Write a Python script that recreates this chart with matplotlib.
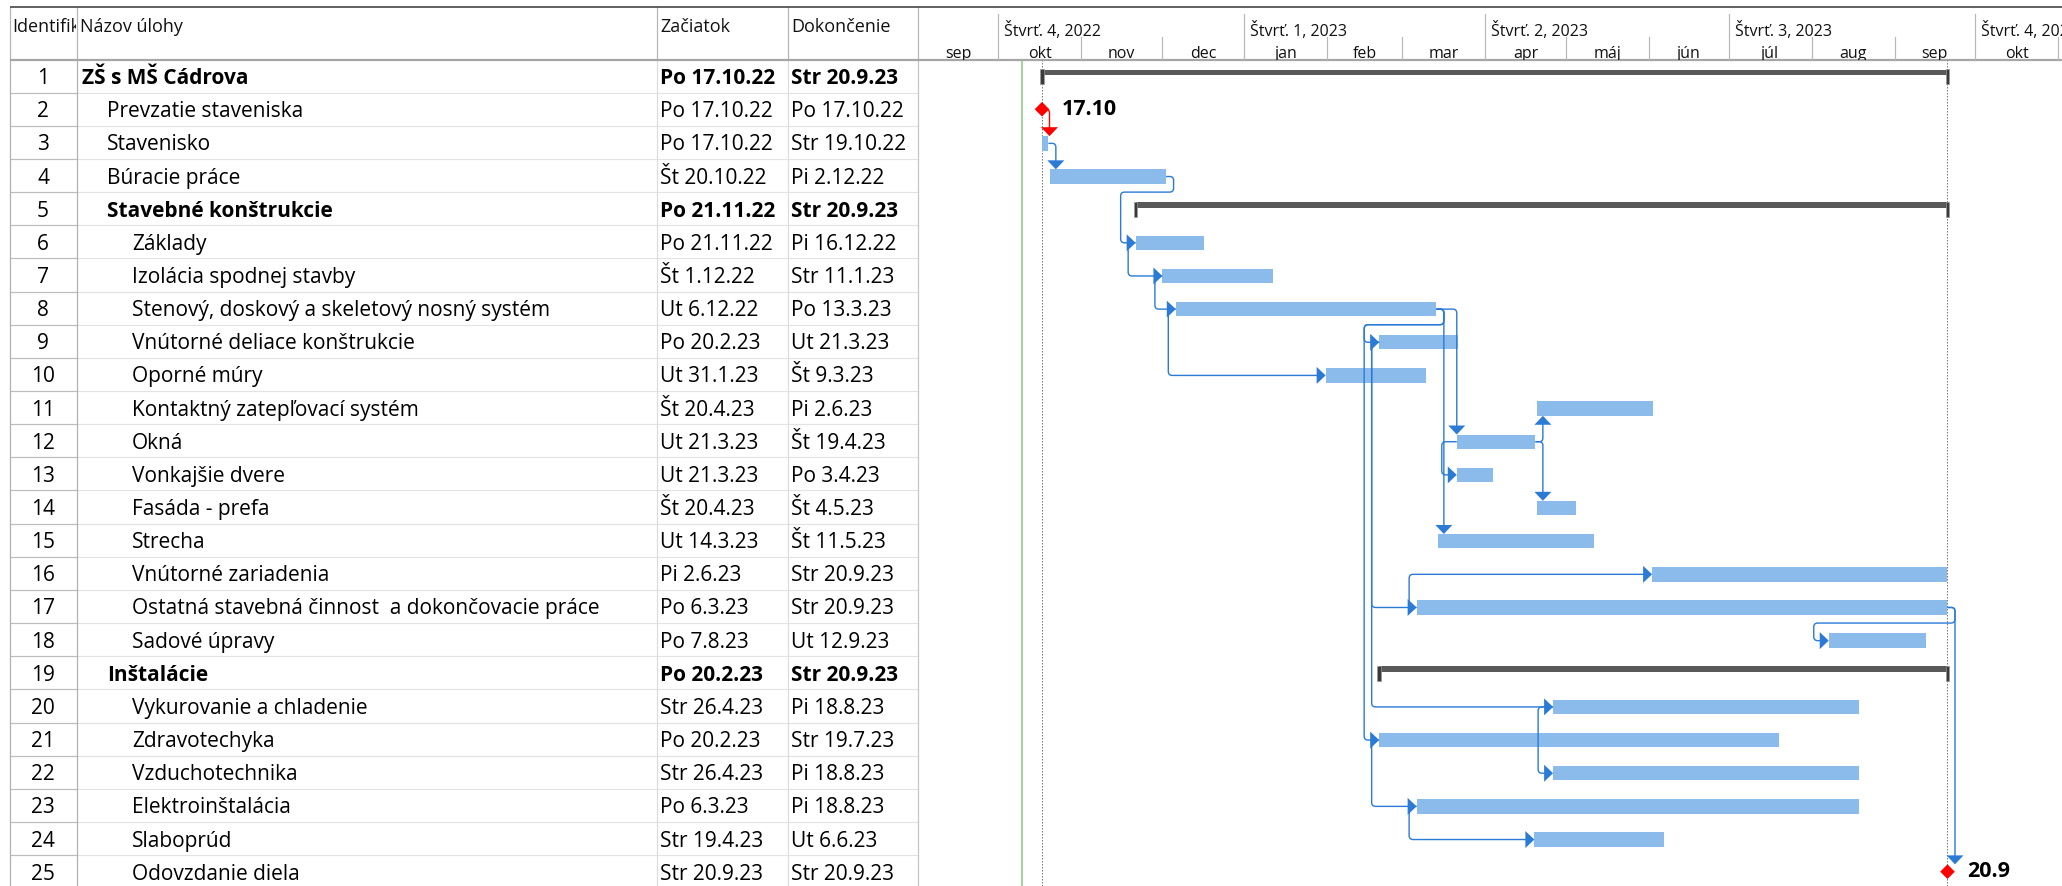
import matplotlib
matplotlib.use('Agg')
import matplotlib.pyplot as plt
import matplotlib.dates as mdates
from matplotlib.path import Path
from matplotlib.patches import PathPatch, Rectangle, Polygon
from matplotlib.transforms import Bbox, TransformedBbox
from datetime import datetime, timedelta

plt.rcParams['font.family'] = ['Open Sans', 'DejaVu Sans']

# ---------------- data ----------------
task_ids = list(range(1, 26))
task_names = [
    'ZŠ s MŠ Cádrova', 'Prevzatie staveniska', 'Stavenisko', 'Búracie práce',
    'Stavebné konštrukcie', 'Základy', 'Izolácia spodnej stavby',
    'Stenový, doskový a skeletový nosný systém', 'Vnútorné deliace konštrukcie',
    'Oporné múry', 'Kontaktný zatepľovací systém', 'Okná', 'Vonkajšie dvere',
    'Fasáda - prefa', 'Strecha', 'Vnútorné zariadenia',
    'Ostatná stavebná činnost  a dokončovacie práce', 'Sadové úpravy',
    'Inštalácie', 'Vykurovanie a chladenie', 'Zdravotechyka', 'Vzduchotechnika',
    'Elektroinštalácia', 'Slaboprúd', 'Odovzdanie diela']
task_levels = [1, 2, 2, 2, 2, 3, 3, 3, 3, 3, 3, 3, 3, 3, 3, 3, 3, 3, 2, 3, 3, 3, 3, 3, 3]
start_labels = [
    'Po 17.10.22', 'Po 17.10.22', 'Po 17.10.22', 'Št 20.10.22', 'Po 21.11.22',
    'Po 21.11.22', 'Št 1.12.22', 'Ut 6.12.22', 'Po 20.2.23', 'Ut 31.1.23',
    'Št 20.4.23', 'Ut 21.3.23', 'Ut 21.3.23', 'Št 20.4.23', 'Ut 14.3.23',
    'Pi 2.6.23', 'Po 6.3.23', 'Po 7.8.23', 'Po 20.2.23', 'Str 26.4.23',
    'Po 20.2.23', 'Str 26.4.23', 'Po 6.3.23', 'Str 19.4.23', 'Str 20.9.23']
finish_labels = [
    'Str 20.9.23', 'Po 17.10.22', 'Str 19.10.22', 'Pi 2.12.22', 'Str 20.9.23',
    'Pi 16.12.22', 'Str 11.1.23', 'Po 13.3.23', 'Ut 21.3.23', 'Št 9.3.23',
    'Pi 2.6.23', 'Št 19.4.23', 'Po 3.4.23', 'Št 4.5.23', 'Št 11.5.23',
    'Str 20.9.23', 'Str 20.9.23', 'Ut 12.9.23', 'Str 20.9.23', 'Pi 18.8.23',
    'Str 19.7.23', 'Pi 18.8.23', 'Pi 18.8.23', 'Ut 6.6.23', 'Str 20.9.23']
task_kinds = ['summary', 'milestone', 'task', 'task', 'summary',
              'task', 'task', 'task', 'task', 'task',
              'task', 'task', 'task', 'task', 'task',
              'task', 'task', 'task', 'summary', 'task',
              'task', 'task', 'task', 'task', 'milestone']
# working day: tasks start 8:00 and finish 17:00; milestone times
work_start_hour = 8
work_end_hour = 17
milestone_hour = {2: 8, 25: 17}

link_pred = [2, 3, 4, 6, 7, 8, 8, 8, 8, 8, 12, 12, 12, 9, 9, 21, 20, 23, 17, 17, 17]
link_succ = [3, 4, 6, 7, 8, 10, 9, 21, 12, 15, 11, 14, 13, 17, 20, 23, 22, 24, 16, 18, 25]
link_type = ['FS', 'FS', 'FS', 'SS', 'SS', 'SS', 'FS', 'FS', 'FS', 'FS', 'FS', 'FS', 'SS',
             'SS', 'SS', 'SS', 'SS', 'SS', 'SS', 'FS', 'FS']
link_critical = [True] + [False] * 20

col_headers = ['Identifikátor', 'Názov úlohy', 'Začiatok', 'Dokončenie']
month_labels = ['sep', 'okt', 'nov', 'dec', 'jan', 'feb', 'mar', 'apr', 'máj',
                'jún', 'júl', 'aug', 'sep', 'okt']
first_month = (2022, 9)
quarter_labels = ['Štvrť. 4, 2022', 'Štvrť. 1, 2023', 'Štvrť. 2, 2023',
                  'Štvrť. 3, 2023', 'Štvrť. 4, 2023']
quarter_starts = ['2022-10-01', '2023-01-01', '2023-04-01', '2023-07-01', '2023-10-01']
status_date = '2022-10-10'
view_start = '2022-09-01 00:00'
view_end = '2023-11-02 12:00'

# ---------------- layout (pixels) ----------------
FIG_W, FIG_H = 2062, 887
TOP_Y = 8.3
HDR_Y = 60.5
ROW_PX = 33.15
COL_X = [10, 77, 657, 788, 918]
GX0 = 918

BAR_COLOR = '#8BBBEB'
LINK_COLOR = '#2B7BD6'
CRIT_COLOR = '#FF0000'
SUM_COLOR = '#595959'


def pt(px):
    return px * 0.72


def parse_label(s):
    d, m, y = s.split()[1].split('.')
    return datetime(2000 + int(y), int(m), int(d))


fig = plt.figure(figsize=(FIG_W / 100, FIG_H / 100), dpi=100)

# ---------------- table ----------------
ax_t = fig.add_axes([0, 0, 1, 1])
ax_t.set_xlim(0, FIG_W)
ax_t.set_ylim(FIG_H, 0)
ax_t.axis('off')
ax_t.patch.set_alpha(0)

n = len(task_ids)
for i in range(1, n + 1):
    y = HDR_Y + i * ROW_PX
    ax_t.plot([COL_X[0], COL_X[1]], [y, y], color='#BDBDBD', lw=pt(1.2), solid_capstyle='butt')
    ax_t.plot([COL_X[1], COL_X[4]], [y, y], color='#E3E3E3', lw=pt(1.2), solid_capstyle='butt')
for x in COL_X:
    ax_t.plot([x, x], [TOP_Y, HDR_Y], color='#B4B4B4', lw=pt(1.2))
ax_t.plot([COL_X[0], COL_X[0]], [HDR_Y, FIG_H], color='#B0B0B0', lw=pt(1.2))
ax_t.plot([COL_X[1], COL_X[1]], [HDR_Y, FIG_H], color='#B0B0B0', lw=pt(1.2))
for x in COL_X[2:4]:
    ax_t.plot([x, x], [HDR_Y, FIG_H], color='#DCDCDC', lw=pt(1.2))
ax_t.plot([COL_X[4], COL_X[4]], [HDR_Y, FIG_H], color='#C4C4C4', lw=pt(1.2))
ax_t.plot([COL_X[0] - 0.5, FIG_W], [TOP_Y, TOP_Y], color='#404040', lw=pt(1.6),
          solid_capstyle='butt')
ax_t.plot([COL_X[0] - 0.5, FIG_W], [HDR_Y, HDR_Y], color='#A6A6A6', lw=pt(2.2),
          solid_capstyle='butt', zorder=5)

hdr_x = [12, 80, 660, 791]
for k, (x, h) in enumerate(zip(hdr_x, col_headers)):
    t = ax_t.text(x, 31.7, h, fontsize=13, ha='left', va='baseline', color='#111111')
    right = COL_X[k + 1] - 1
    t.set_clip_on(True)
    t.set_clip_box(TransformedBbox(Bbox.from_extents(COL_X[k], TOP_Y, right, HDR_Y),
                                   ax_t.transData))

for i in range(n):
    yb = HDR_Y + (i + 0.5) * ROW_PX + 7
    fw = 'bold' if task_kinds[i] == 'summary' else 'normal'
    ax_t.text(43, yb, str(task_ids[i]), fontsize=15, ha='center', va='baseline')
    ax_t.text(82 + (task_levels[i] - 1) * 25, yb, task_names[i], fontsize=15,
              ha='left', va='baseline', fontweight=fw)
    ax_t.text(660, yb, start_labels[i], fontsize=15, ha='left', va='baseline', fontweight=fw)
    ax_t.text(791, yb, finish_labels[i], fontsize=15, ha='left', va='baseline', fontweight=fw)

# ---------------- gantt axes ----------------
xl0 = mdates.date2num(datetime.fromisoformat(view_start))
xl1 = mdates.date2num(datetime.fromisoformat(view_end))
gw = (FIG_W - GX0) / FIG_W
ax_g = fig.add_axes([GX0 / FIG_W, 0, gw, (FIG_H - HDR_Y) / FIG_H])
ax_g.set_xlim(xl0, xl1)
ax_g.set_ylim(0.5 + (FIG_H - HDR_Y) / ROW_PX, 0.5)
ax_g.axis('off')
ax_g.patch.set_alpha(0)

ax_h = fig.add_axes([GX0 / FIG_W, (FIG_H - HDR_Y) / FIG_H, gw, (HDR_Y - TOP_Y) / FIG_H],
                    sharex=ax_g)
ax_h.set_ylim(HDR_Y, TOP_Y)
ax_h.axis('off')
ax_h.patch.set_alpha(0)

XPP = (xl1 - xl0) / (FIG_W - GX0)   # days per pixel
YPP = 1.0 / ROW_PX                   # rows per pixel


def hx(px):
    return px * XPP


def vy(px):
    return px * YPP


# timescale header
month_starts = []
y0, m0 = first_month
for k in range(len(month_labels) + 1):
    mm = m0 - 1 + k
    month_starts.append(datetime(y0 + mm // 12, mm % 12 + 1, 1))
q_nums = [mdates.date2num(datetime.fromisoformat(q)) for q in quarter_starts]
for k, lab in enumerate(month_labels):
    a = mdates.date2num(month_starts[k])
    b = mdates.date2num(month_starts[k + 1])
    ax_h.text((a + b) / 2, 58.3, lab, fontsize=11.5, ha='center', va='baseline',
              color='#111111', clip_on=True)
    if b not in q_nums:
        ax_h.plot([b, b], [38.3, HDR_Y], color='#B8B8B8', lw=pt(1.2))
for qx, lab in zip(q_nums, quarter_labels):
    ax_h.plot([qx, qx], [15, HDR_Y], color='#B8B8B8', lw=pt(1.2))
    ax_h.text(qx + hx(6), 35.7, lab, fontsize=11.5, ha='left', va='baseline',
              color='#111111', clip_on=True)

# task geometry
geo = {}
for i in range(n):
    row = i + 1
    tid = task_ids[i]
    if task_kinds[i] == 'milestone':
        base = parse_label(start_labels[i])
        x = mdates.date2num(base + timedelta(hours=milestone_hour[tid]))
        geo[tid] = dict(start=x, end=x, yc=row, top=row - vy(7.3), bot=row + vy(7.3), row=row)
    else:
        s = mdates.date2num(parse_label(start_labels[i]) + timedelta(hours=work_start_hour))
        f = mdates.date2num(parse_label(finish_labels[i]) + timedelta(hours=work_end_hour))
        yc = row + vy(1.0)
        geo[tid] = dict(start=s, end=f, yc=yc, top=yc - vy(7.2), bot=yc + vy(7.2), row=row)

# reference lines
proj = geo[task_ids[0]]
ax_g.axvline(mdates.date2num(datetime.fromisoformat(status_date)), color='#8CCB80',
             lw=pt(1.6), zorder=1)
for x in (proj['start'], proj['end']):
    ax_g.axvline(x, color='#7A7A7A', lw=pt(1.0), ls=(0, (1.5, 1.5)), zorder=1)

# bars
for i in range(n):
    tid = task_ids[i]
    g = geo[tid]
    row = g['row']
    if task_kinds[i] == 'task':
        ax_g.add_patch(Rectangle((g['start'], g['top']), g['end'] - g['start'],
                                 g['bot'] - g['top'], facecolor=BAR_COLOR,
                                 edgecolor='none', zorder=2))
    elif task_kinds[i] == 'summary':
        ax_g.add_patch(Rectangle((g['start'], row - vy(6.3)), g['end'] - g['start'], vy(5.3),
                                 facecolor=SUM_COLOR, edgecolor='none', zorder=2))
        for x in (g['start'], g['end']):
            ax_g.add_patch(Rectangle((x - hx(1.8), row - vy(7)), hx(3.6), vy(15),
                                     facecolor='#3A3A3A', edgecolor='#9A9A9A',
                                     lw=0.5, zorder=2.5))


def rounded_path(pts, r=4.0):
    clean = [pts[0]]
    for p in pts[1:]:
        if abs((p[0] - clean[-1][0]) / XPP) > 0.01 or abs((p[1] - clean[-1][1]) / YPP) > 0.01:
            clean.append(p)
    pts = clean
    verts = [pts[0]]
    codes = [Path.MOVETO]
    for k in range(1, len(pts) - 1):
        A, P, B = pts[k - 1], pts[k], pts[k + 1]
        d1x, d1y = (P[0] - A[0]) / XPP, (P[1] - A[1]) / YPP
        d2x, d2y = (B[0] - P[0]) / XPP, (B[1] - P[1]) / YPP
        L1 = (d1x ** 2 + d1y ** 2) ** 0.5
        L2 = (d2x ** 2 + d2y ** 2) ** 0.5
        rr = min(r, L1 / 2, L2 / 2)
        p1 = (P[0] - d1x / L1 * rr * XPP, P[1] - d1y / L1 * rr * YPP)
        p2 = (P[0] + d2x / L2 * rr * XPP, P[1] + d2y / L2 * rr * YPP)
        verts += [p1, P, p2]
        codes += [Path.LINETO, Path.CURVE3, Path.CURVE3]
    verts.append(pts[-1])
    codes.append(Path.LINETO)
    return Path(verts, codes)


def arrow(x, y, direction, color):
    L, W = 9, 8.5
    if direction == 'down':
        pts = [(x - hx(W), y - vy(L)), (x + hx(W), y - vy(L)), (x, y)]
    elif direction == 'up':
        pts = [(x - hx(W), y + vy(L)), (x + hx(W), y + vy(L)), (x, y)]
    else:
        pts = [(x - hx(L), y - vy(W)), (x - hx(L), y + vy(W)), (x, y)]
    ax_g.add_patch(Polygon(pts, closed=True, facecolor=color, edgecolor='none', zorder=3.5))


for p, s, typ, crit in zip(link_pred, link_succ, link_type, link_critical):
    P, S = geo[p], geo[s]
    col = CRIT_COLOR if crit else LINK_COLOR
    if typ == 'FS':
        pe, ss = P['end'], S['start']
        if ss >= pe:
            dx = max(pe + hx(7.5), ss)
            if S['row'] > P['row']:
                tip = S['top']
                pts = [(pe, P['yc']), (dx, P['yc']), (dx, tip - vy(7))]
                arrow(dx, tip, 'down', col)
            else:
                tip = S['bot']
                pts = [(pe, P['yc']), (dx, P['yc']), (dx, tip + vy(7))]
                arrow(dx, tip, 'up', col)
        else:
            xr = pe + hx(7.5)
            yb = P['row'] + 0.5
            xv = ss - hx(15)
            pts = [(pe, P['yc']), (xr, P['yc']), (xr, yb), (xv, yb), (xv, S['yc']),
                   (ss - hx(7), S['yc'])]
            arrow(ss, S['yc'], 'right', col)
    else:
        ps, ss = P['start'], S['start']
        xv = min(ps - hx(7.5), ss - hx(15))
        pts = [(ps, P['yc']), (xv, P['yc']), (xv, S['yc']), (ss - hx(7), S['yc'])]
        arrow(ss, S['yc'], 'right', col)
    ax_g.add_patch(PathPatch(rounded_path(pts), facecolor='none', edgecolor=col,
                             lw=pt(1.4), zorder=3, capstyle='butt'))

# milestones
for i in range(n):
    if task_kinds[i] != 'milestone':
        continue
    g = geo[task_ids[i]]
    x, yc = g['start'], g['yc']
    ax_g.add_patch(Polygon([(x, yc - vy(7.3)), (x + hx(7.3), yc), (x, yc + vy(7.3)),
                            (x - hx(7.3), yc)], closed=True, facecolor='#FF0000',
                           edgecolor='none', zorder=4))
    d = parse_label(start_labels[i])
    ax_g.text(x + hx(20), yc + vy(4.5), f'{d.day}.{d.month}', fontsize=15.5,
              fontweight='bold', ha='left', va='baseline', zorder=5)

fig.savefig('out.png', dpi=100)
